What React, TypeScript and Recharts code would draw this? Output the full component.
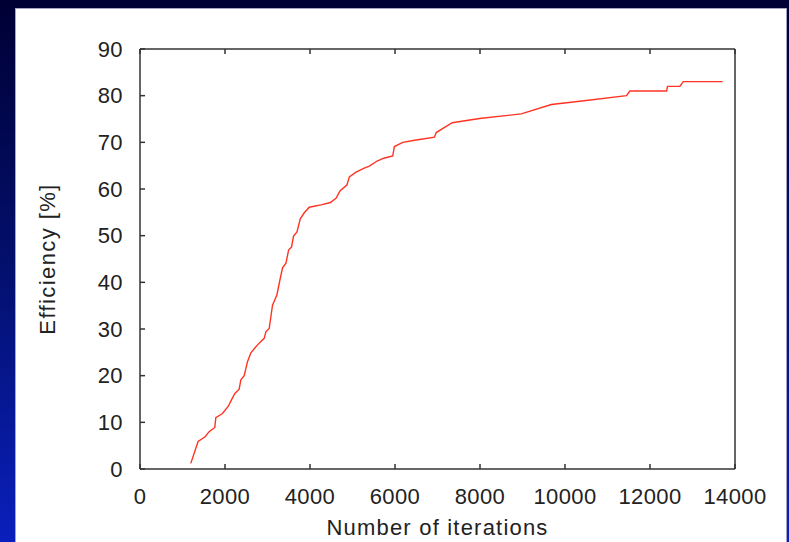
import { LineChart, Line, XAxis, YAxis } from 'recharts';

// iterations vs efficiency
const iterations = [
  1195, 1367, 1532, 1626, 1760, 1784, 1940, 2074, 2152, 2232, 2333, 2373, 2451, 2529, 2609,
  2765, 2922, 2962, 3040, 3118, 3221, 3292, 3354, 3434, 3496, 3566, 3613, 3693, 3771, 3865,
  3983, 4258, 4478, 4612, 4706, 4871, 4926, 5083, 5264, 5397, 5579, 5735, 5947, 5986, 6182,
  6497, 6929, 6969, 7346, 7990, 8972, 9679, 10347, 11447, 11525, 12390, 12413, 12703, 12781, 13709,
];
const efficiency = [
  1.2, 5.9, 6.9, 8.0, 8.9, 11.0, 11.9, 13.4, 14.8, 16.2, 17.1, 19.1, 20.0, 23.0, 24.9,
  26.6, 28.0, 29.4, 30.1, 35.1, 37.3, 40.5, 43.1, 44.1, 46.9, 47.6, 49.9, 50.8, 53.6, 54.9,
  56.1, 56.6, 57.1, 58.0, 59.6, 60.9, 62.6, 63.6, 64.4, 64.9, 66.0, 66.6, 67.1, 69.1, 70.0,
  70.5, 71.1, 72.1, 74.2, 75.1, 76.1, 78.1, 78.8, 80.0, 81.0, 81.0, 82.0, 82.0, 83.0, 83.0,
];
const xTicks = [0, 2000, 4000, 6000, 8000, 10000, 12000, 14000];
const yTicks = [0, 10, 20, 30, 40, 50, 60, 70, 80, 90];

const data = iterations.map((it, i) => ({ it, eff: efficiency[i] }));

const font = 'Liberation Sans, Arial, Helvetica, sans-serif';
const axisColor = '#333';
const tickStyle = { fontSize: 22, fill: '#222', fontFamily: font, letterSpacing: 0.4 };

export default function App() {
  return (
    <div
      style={{
        position: 'absolute',
        left: 0,
        top: 0,
        width: 789,
        height: 542,
        overflow: 'hidden',
        background: 'linear-gradient(to bottom, #000034 0%, #03106e 50%, #0a1fbc 100%)',
      }}
    >
      {/* white slide panel */}
      <div
        style={{
          position: 'absolute',
          left: 15,
          top: 8,
          width: 772,
          height: 540,
          boxSizing: 'border-box',
          background: '#fff',
          border: '1px solid #a4a4c8',
        }}
      />
      <div style={{ position: 'absolute', left: 16, top: 9 }}>
        <LineChart width={770} height={533} data={data} margin={{ top: 39, right: 50, bottom: 0, left: 0 }}>
          <XAxis
            dataKey="it"
            type="number"
            domain={[0, 14000]}
            ticks={xTicks}
            height={73}
            stroke={axisColor}
            strokeWidth={1.5}
            tickSize={-5}
            tickMargin={24}
            tick={tickStyle}
            interval={0}
            label={{
              content: ({ viewBox }: any) => (
                <text
                  x={viewBox.x + viewBox.width / 2}
                  y={viewBox.y + 66}
                  textAnchor="middle"
                  fontSize={22}
                  fontFamily={font}
                  letterSpacing={1.2}
                  fill="#222"
                >
                  Number of iterations
                </text>
              ),
            }}
          />
          <XAxis
            xAxisId="top"
            orientation="top"
            dataKey="it"
            type="number"
            domain={[0, 14000]}
            ticks={xTicks}
            height={1}
            stroke={axisColor}
            strokeWidth={1.5}
            tickSize={-5}
            tickFormatter={() => ''}
            interval={0}
          />
          <YAxis
            type="number"
            domain={[0, 90]}
            ticks={yTicks}
            width={124}
            stroke={axisColor}
            strokeWidth={1.5}
            tickSize={-5}
            tickMargin={22}
            tick={tickStyle}
            interval={0}
            label={{
              content: ({ viewBox }: any) => {
                const cx = viewBox.x + 31.5;
                const cy = viewBox.y + viewBox.height / 2;
                return (
                  <text
                    x={cx}
                    y={cy}
                    transform={`rotate(-90, ${cx}, ${cy})`}
                    textAnchor="middle"
                    dominantBaseline="central"
                    fontSize={22}
                    fontFamily={font}
                    letterSpacing={1.4}
                    fill="#222"
                  >
                    Efficiency [%]
                  </text>
                );
              },
            }}
          />
          <YAxis
            yAxisId="right"
            orientation="right"
            type="number"
            domain={[0, 90]}
            ticks={yTicks}
            width={1}
            stroke={axisColor}
            strokeWidth={1.5}
            tickSize={-5}
            tickFormatter={() => ''}
            interval={0}
          />
          <Line
            type="linear"
            dataKey="eff"
            stroke="#ff3322"
            strokeWidth={1.4}
            dot={false}
            isAnimationActive={false}
          />
        </LineChart>
      </div>
    </div>
  );
}
